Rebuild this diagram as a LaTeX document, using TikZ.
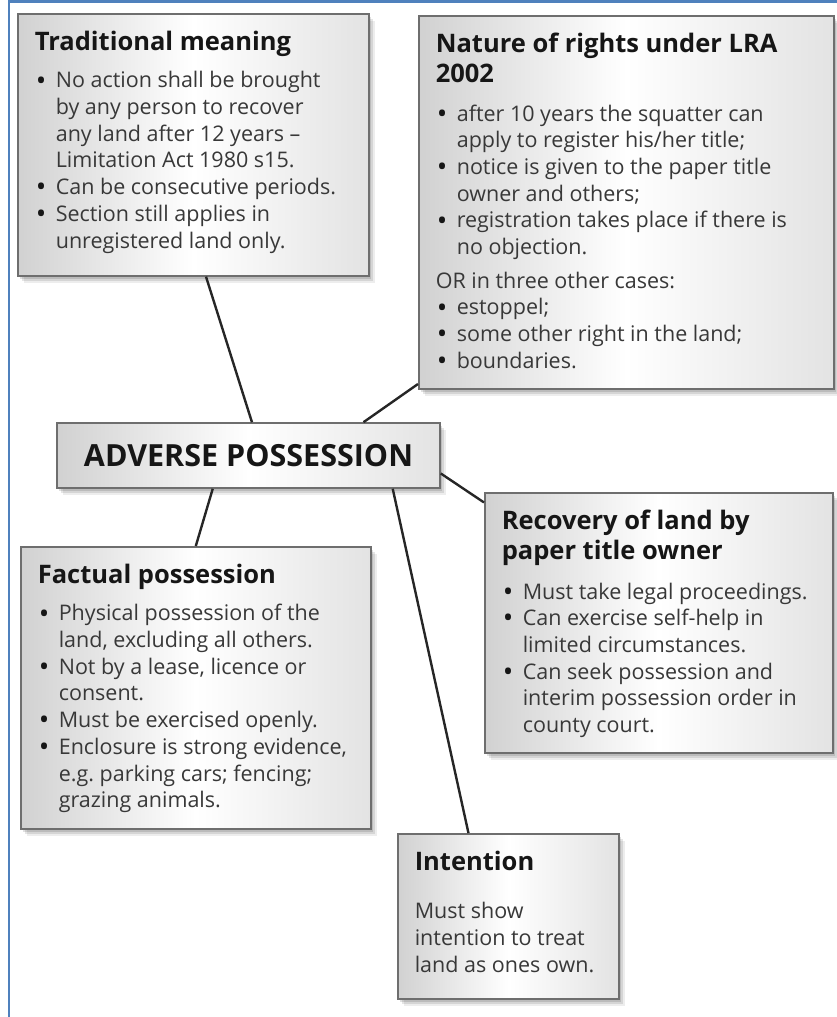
\documentclass[tikz,border=0pt]{standalone}
\usepackage{fontspec}
\setmainfont{Open Sans}
\usetikzlibrary{calc,shadows}
\definecolor{frameblue}{HTML}{4F81BD}
\definecolor{edgegray}{HTML}{6E6E6E}
\definecolor{inkdark}{HTML}{161616}
\definecolor{inkbody}{HTML}{383838}
\definecolor{linkink}{HTML}{262626}
\tikzset{
    softshadow/.style={
        drop shadow={shadow xshift=2pt, shadow yshift=-3pt, fill=black, opacity=.12},
        drop shadow={shadow xshift=4pt, shadow yshift=-5pt, fill=black, opacity=.10},
        drop shadow={shadow xshift=6pt, shadow yshift=-7pt, fill=black, opacity=.07}},
    panel/.style={draw=edgegray, line width=1.6pt, inner xsep=0pt, inner ysep=17pt,
                  left color=gray!36, right color=gray!22, middle color=white,
                  softshadow},
    core/.style={panel, inner sep=0pt, minimum width=383pt, minimum height=65pt,
                 font=\fontsize{30.5}{36}\selectfont\bfseries, text=inkdark},
    link/.style={draw=linkink, line width=2.4pt},
    frame/.style={draw=frameblue, line width=2.6pt},
}
\newcommand{\bodyset}{\leftskip=17pt\rightskip=0pt plus 1fil
    \fontsize{21.5}{26.7}\selectfont\color{inkbody}}
\newcommand{\heading}[2][11pt]{{\fontsize{25.5}{30}\selectfont\bfseries
    \color{inkdark}#2\par}\vspace{#1}}
\newcommand{\bul}[1]{\par\hangindent=21pt\hangafter=1\noindent
    \makebox[21pt][l]{\hspace{1pt}{\color{inkdark}\raisebox{-2.2pt}{\scalebox{1.3}{\textbullet}}}}#1\par}
\newcommand{\infobox}[5]{
    \node[panel, anchor=north west] (#1) at #2
        {\parbox[c][\dimexpr#4pt-34pt\relax][t]{#3pt}{\bodyset #5}};
}

\begin{document}
\begin{tikzpicture}[x=1pt, y=-1pt]
    \useasboundingbox (0,0) rectangle (837,1017);
    \draw[frame] (9,1017) -- (9,1.3) -- (837,1.3);

    \infobox{trad}{(17,13)}{351}{262}{%
        \heading{Traditional meaning}
        \bul{No action shall be brought\\by any person to recover\\
             any land after 12 years –\\Limitation Act 1980 s15.}
        \bul{Can be consecutive periods.}
        \bul{Section still applies in\\unregistered land only.}}
    \infobox{nature}{(418,15)}{415}{373}{%
        \heading[12pt]{Nature of rights under LRA\\2002}
        \bul{after 10 years the squatter can\\apply to register his/her title;}
        \bul{notice is given to the paper title\\owner and others;}
        \bul{registration takes place if there is\\no objection.}
        \vspace{7pt}\noindent OR in three other cases:\par
        \bul{estoppel;}
        \bul{some other right in the land;}
        \bul{boundaries.}}
    \node[core] (core) at (248.5,455.5) {ADVERSE POSSESSION};
    \infobox{factual}{(20,546)}{350}{282}{%
        \heading{Factual possession}
        \bul{Physical possession of the\\land, excluding all others.}
        \bul{Not by a lease, licence or\\consent.}
        \bul{Must be exercised openly.}
        \bul{Enclosure is strong evidence,\\e.g.\ parking cars; fencing;\\
             grazing animals.}}
    \infobox{recovery}{(484,492)}{348}{260}{%
        \heading[13pt]{Recovery of land by\\paper title owner}
        \bul{Must take legal proceedings.}
        \bul{Can exercise self-help in\\limited circumstances.}
        \bul{Can seek possession and\\interim possession order in\\
             county court.}}
    \infobox{intent}{(397,833)}{221}{165}{%
        \heading[22pt]{Intention}
        \noindent Must show\\intention to treat\\land as ones own.\par}

    \draw[link] ($(trad.south west)!0.536!(trad.south east)$)
        -- ($(core.north west)!0.509!(core.north east)$);
    \draw[link] ($(nature.south west)!0.015!(nature.north west)$)
        -- ($(core.north west)!0.799!(core.north east)$);
    \draw[link] ($(core.south west)!0.407!(core.south east)$)
        -- ($(factual.north west)!0.5!(factual.north east)$);
    \draw[link] ($(core.south west)!0.875!(core.south east)$)
        -- ($(intent.north west)!0.321!(intent.north east)$);
    \draw[link] ($(core.north east)!0.77!(core.south east)$)
        -- ($(recovery.north west)!0.04!(recovery.south west)$);
\end{tikzpicture}
\end{document}
